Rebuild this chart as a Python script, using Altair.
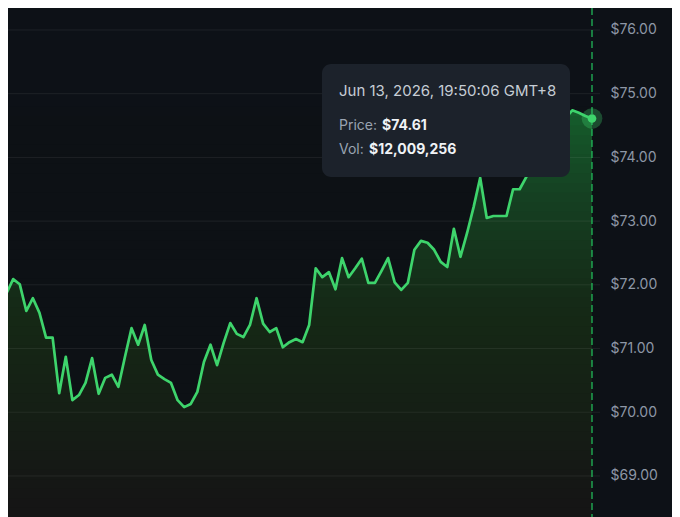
import altair as alt
import pandas as pd

# ---- data ----
prices = [
    71.64, 71.87, 72.09, 72.01, 71.59, 71.79, 71.56, 71.17, 71.17, 70.30,
    70.87, 70.19, 70.27, 70.46, 70.85, 70.29, 70.54, 70.59, 70.40, 70.87,
    71.32, 71.06, 71.37, 70.82, 70.59, 70.52, 70.46, 70.19, 70.08, 70.13,
    70.32, 70.79, 71.06, 70.74, 71.09, 71.40, 71.23, 71.18, 71.37, 71.79,
    71.39, 71.26, 71.32, 71.02, 71.10, 71.15, 71.10, 71.37, 72.26, 72.12,
    72.20, 71.93, 72.42, 72.12, 72.26, 72.41, 72.03, 72.03, 72.22, 72.42,
    72.04, 71.92, 72.03, 72.55, 72.69, 72.66, 72.55, 72.36, 72.28, 72.88,
    72.44, 72.81, 73.22, 73.68, 73.05, 73.08, 73.08, 73.08, 73.50, 73.50,
    73.69, 73.88, 74.12, 74.27, 74.46, 74.56, 74.62, 74.74, 74.70, 74.65,
    74.61,
]
y_ticks = [69, 70, 71, 72, 73, 74, 75, 76]
tip_time = "Jun 13, 2026, 19:50:06 GMT+8"
tip_price_label = "Price:"
tip_price = "$74.61"
tip_vol_label = "Vol:"
tip_vol = "$12,009,256"

df = pd.DataFrame({"i": list(range(len(prices))), "price": prices})
df_last = df.tail(1)
df_ticks = pd.DataFrame({"price": y_ticks})

W, H = 592, 509
BG = "#0d1117"
LINE = "#3ed46c"
FONT = "Inter"

# styling only: fading bands (background colour, low opacity) that darken the
# green fill toward the bottom, giving a vertical gradient
fade_levels = pd.DataFrame({"price": [74.8 - 0.15 * k for k in range(43)]})

x_scale = alt.Scale(domain=[1.216, 91.216], nice=False, zero=False)
y_scale = alt.Scale(domain=[68.356, 76.345], nice=False, zero=False)

y_axis = alt.Axis(
    orient="right", values=y_ticks, format="$.2f", grid=False,
    domain=False, ticks=False,
    labelPadding=10, labelFont=FONT, labelFontSize=14, labelColor="#8d97a6",
    title=None,
)

X = alt.X("i:Q", scale=x_scale, axis=None)
Y = alt.Y("price:Q", scale=y_scale, axis=y_axis)

area = alt.Chart(df).mark_area(clip=True, color="#17622f").encode(
    x=X, y=Y, y2=alt.value(H)
)

fade = alt.Chart(fade_levels).mark_rect(
    color=BG, opacity=0.049, clip=True
).encode(x=alt.value(0), x2=alt.value(W), y=Y, y2=alt.value(H))

grid = alt.Chart(df_ticks).mark_rule(
    color="rgba(255,255,255,0.07)", strokeWidth=1
).encode(y=Y)

line = alt.Chart(df).mark_line(
    clip=True, color=LINE, strokeWidth=2.7, strokeJoin="round"
).encode(x=X, y=Y)

rule = alt.Chart(df_last).mark_rule(
    color="#22c55e", strokeDash=[7, 4], strokeWidth=1.2
).encode(x=X)

halo = alt.Chart(df_last).mark_circle(
    size=430, color=LINE, opacity=0.3
).encode(x=X, y=Y)
dot = alt.Chart(df_last).mark_circle(
    size=75, color=LINE, opacity=1
).encode(x=X, y=Y)

tip_box = alt.Chart(df_last).mark_rect(
    cornerRadius=9, color="#1c222b"
).encode(x=alt.value(314), x2=alt.value(562), y=alt.value(56), y2=alt.value(169))


def txt(s, x, y, color, weight="normal", size=14):
    return alt.Chart(df_last).mark_text(
        align="left", baseline="middle", font=FONT, fontSize=size,
        fontWeight=weight, color=color,
    ).encode(x=alt.value(x), y=alt.value(y), text=alt.value(s))


t1 = txt(tip_time, 331, 83, "#c6cdd5", size=15)
t2 = txt(tip_price_label, 331, 118, "#9aa4b2")
t3 = txt(tip_price, 374, 118, "#f0f3f6", "bold")
t4 = txt(tip_vol_label, 331, 142, "#9aa4b2")
t5 = txt(tip_vol, 361, 142, "#f0f3f6", "bold")

chart = alt.layer(
    area, fade, grid, line, rule, halo, dot, tip_box, t1, t2, t3, t4, t5
).properties(
    width=W, height=H,
    padding={"left": 0, "top": 0, "right": 72, "bottom": 0},
    autosize=alt.AutoSizeParams(type="none"),
).configure(background=BG).configure_view(stroke=None)

chart.save("out.html", embed_options={"renderer": "svg", "actions": False})
